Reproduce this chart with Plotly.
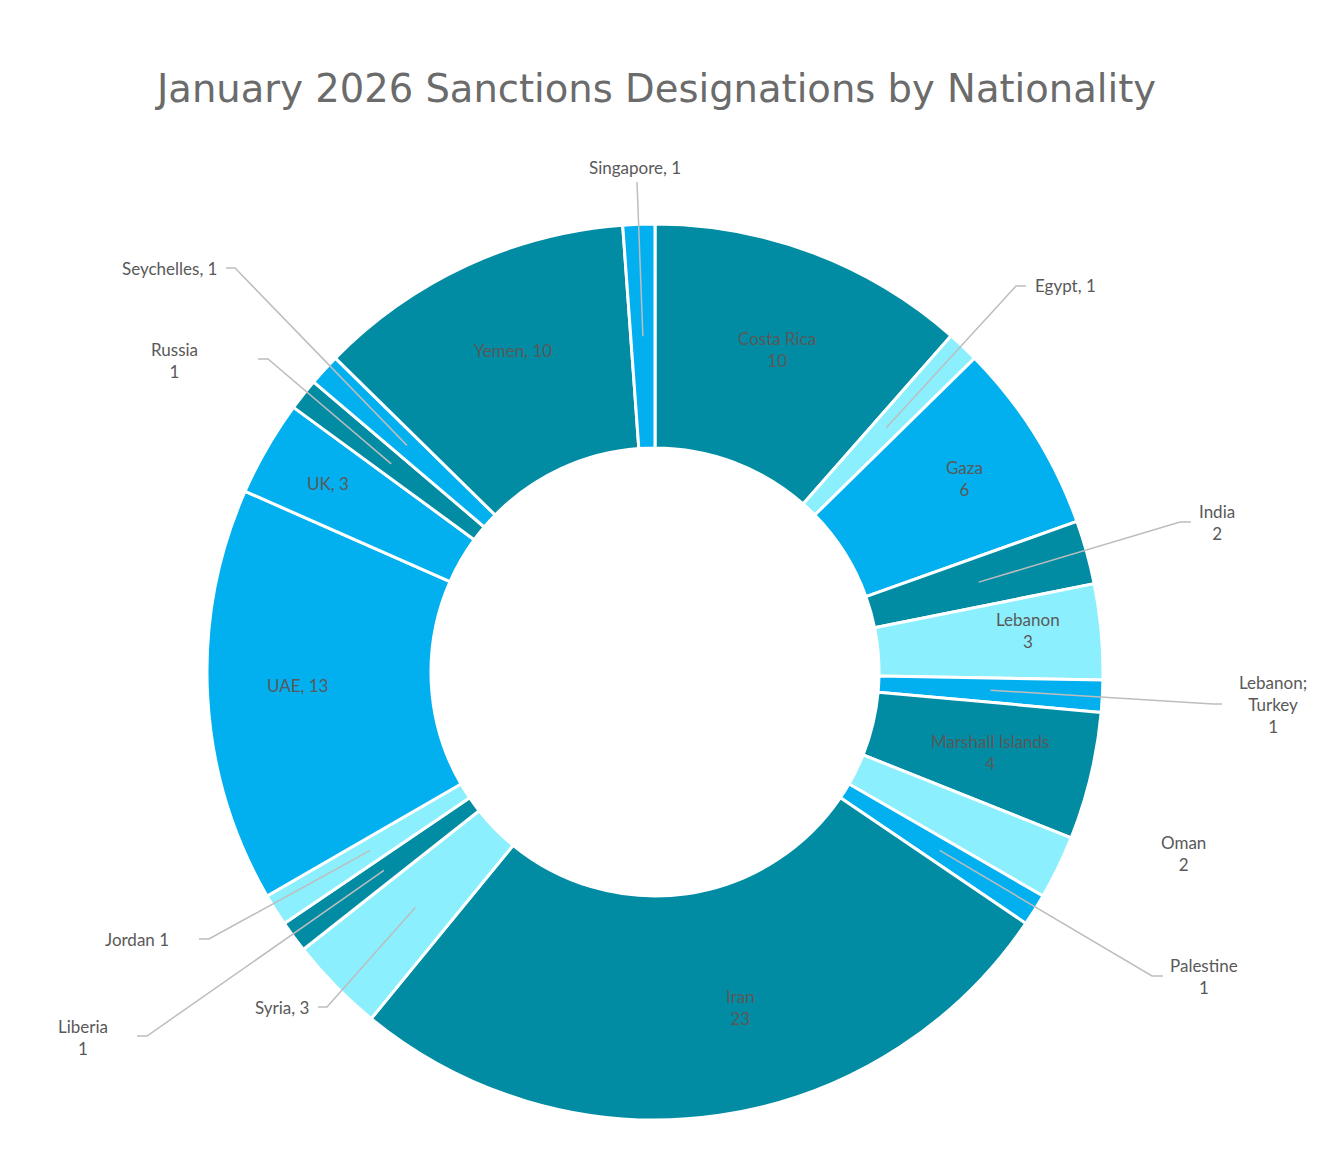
import math
import plotly.graph_objects as go

# ---------------- data ----------------
countries = ["Costa Rica", "Egypt", "Gaza", "India", "Lebanon", "Lebanon; Turkey",
             "Marshall Islands", "Oman", "Palestine", "Iran", "Syria", "Liberia",
             "Jordan", "UAE", "UK", "Russia", "Seychelles", "Yemen", "Singapore"]
counts = [10, 1, 6, 2, 3, 1, 4, 2, 1, 23, 3, 1, 1, 13, 3, 1, 1, 10, 1]
label_texts = ["Costa Rica<br>10", "Egypt, 1", "Gaza<br>6", "India<br>2", "Lebanon<br>3",
               "Lebanon;<br>Turkey<br>1", "Marshall Islands<br>4", "Oman<br>2", "Palestine<br>1",
               "Iran<br>23", "Syria, 3", "Liberia<br>1", "Jordan 1", "UAE, 13", "UK, 3",
               "Russia<br>1", "Seychelles, 1", "Yemen, 10", "Singapore, 1"]
title_text = "January 2026 Sanctions Designations by Nationality"

# ---------------- styles ----------------
TEAL, BLUE, LIGHT = "#018CA3", "#02B0F0", "#8CEFFD"
slice_colors = [TEAL, LIGHT, BLUE, TEAL, LIGHT, BLUE, TEAL, LIGHT, BLUE, TEAL,
                LIGHT, TEAL, LIGHT, BLUE, BLUE, TEAL, BLUE, TEAL, BLUE]
TXT = "#595959"
LINE = "#BDBDBD"
FONT = "Lato"
TITLE_FONT = "DejaVu Sans"

# page geometry (px, page coordinates)
OFF = 8                     # default body margin of the html page
W, H = 1335 - 2 * OFF, 1170 - 2 * OFF
CX, CY = 655, 672           # pie centre on the page
R_OUT = 448
HOLE = 0.5
R_MID = R_OUT * (1 + HOLE) / 2


def px(x, y):
    return (x - OFF) / W, 1 - (y - OFF) / H


# label placement (layout only)
inside_place = {   # name: (radius px, angular nudge deg)
    "Costa Rica": (345, 0), "Gaza": (365, 0), "Lebanon": (375, -1.2),
    "Marshall Islands": (344, 0), "Iran": (346, -6), "UAE": (358, 1),
    "UK": (378, 0), "Yemen": (351, 1),
}
outside_place = {  # name: (elbow dx, dy, stub, text dx, dy, xanchor)
    "Singapore": (-18, -490, 0, -20, -504, "center"),
    "Egypt": (361, -386, 10, 378, -386, "left"),
    "India": (525, -150, 11, 562, -150, "center"),
    "Lebanon; Turkey": (558, 32, 9, 618, 32, "center"),
    "Oman": (None, None, 0, 528, 181, "center"),
    "Palestine": (497, 304, 11, 549, 304, "center"),
    "Syria": (-328, 335, -9, -344, 335, "right"),
    "Liberia": (-508, 364, -10, -572, 365, "center"),
    "Jordan": (-446, 267, -10, -518, 267, "center"),
    "Russia": (-387, -313, -10, -481, -312, "center"),
    "Seychelles": (-420, -404, -9, -436, -404, "right"),
}

# ---------------- figure ----------------
x0, y0 = px(CX - R_OUT, CY + R_OUT)
x1, y1 = px(CX + R_OUT, CY - R_OUT)

fig = go.Figure(go.Pie(
    labels=countries, values=counts, hole=HOLE, sort=False, direction="clockwise",
    rotation=0, textinfo="none", hoverinfo="label+value",
    marker=dict(colors=slice_colors, line=dict(color="white", width=3)),
    domain=dict(x=[x0, x1], y=[y0, y1]), showlegend=False,
))

total = sum(counts)
annotations, shapes = [], []
cum = 0
for name, v, txt in zip(countries, counts, label_texts):
    mid = (cum + v / 2) / total * 360.0
    cum += v
    if name in inside_place:
        r, nudge = inside_place[name]
        a = math.radians(mid + nudge)
        xx, yy = px(CX + r * math.sin(a), CY - r * math.cos(a))
        annotations.append(dict(x=xx, y=yy, xref="paper", yref="paper", text=txt,
                                showarrow=False, xanchor="center", yanchor="middle",
                                font=dict(family=FONT, size=17, color=TXT)))
    elif name in outside_place:
        ex, ey, stub, tx, ty, xa = outside_place[name]
        a = math.radians(mid)
        sx, sy = CX + R_MID * math.sin(a), CY - R_MID * math.cos(a)
        if ex is not None:
            p0 = px(sx, sy)
            p1 = px(CX + ex, CY + ey)
            p2 = px(CX + ex + stub, CY + ey)
            shapes.append(dict(type="path", xref="paper", yref="paper",
                               path=f"M {p0[0]},{p0[1]} L {p1[0]},{p1[1]} L {p2[0]},{p2[1]}",
                               line=dict(color=LINE, width=1.5)))
        xx, yy = px(CX + tx, CY + ty)
        annotations.append(dict(x=xx, y=yy, xref="paper", yref="paper", text=txt,
                                showarrow=False, xanchor=xa, yanchor="middle", align="center",
                                font=dict(family=FONT, size=17, color=TXT)))

tx, ty = px(655, 89)
annotations.append(dict(x=tx, y=ty, xref="paper", yref="paper", text=title_text,
                        showarrow=False, xanchor="center", yanchor="middle",
                        font=dict(family=TITLE_FONT, size=38.5, color="#6B6B6B")))

fig.update_layout(width=W, height=H, margin=dict(l=0, r=0, t=0, b=0),
                  paper_bgcolor="white", plot_bgcolor="white",
                  annotations=annotations, shapes=shapes)

fig.write_html("out.html")
